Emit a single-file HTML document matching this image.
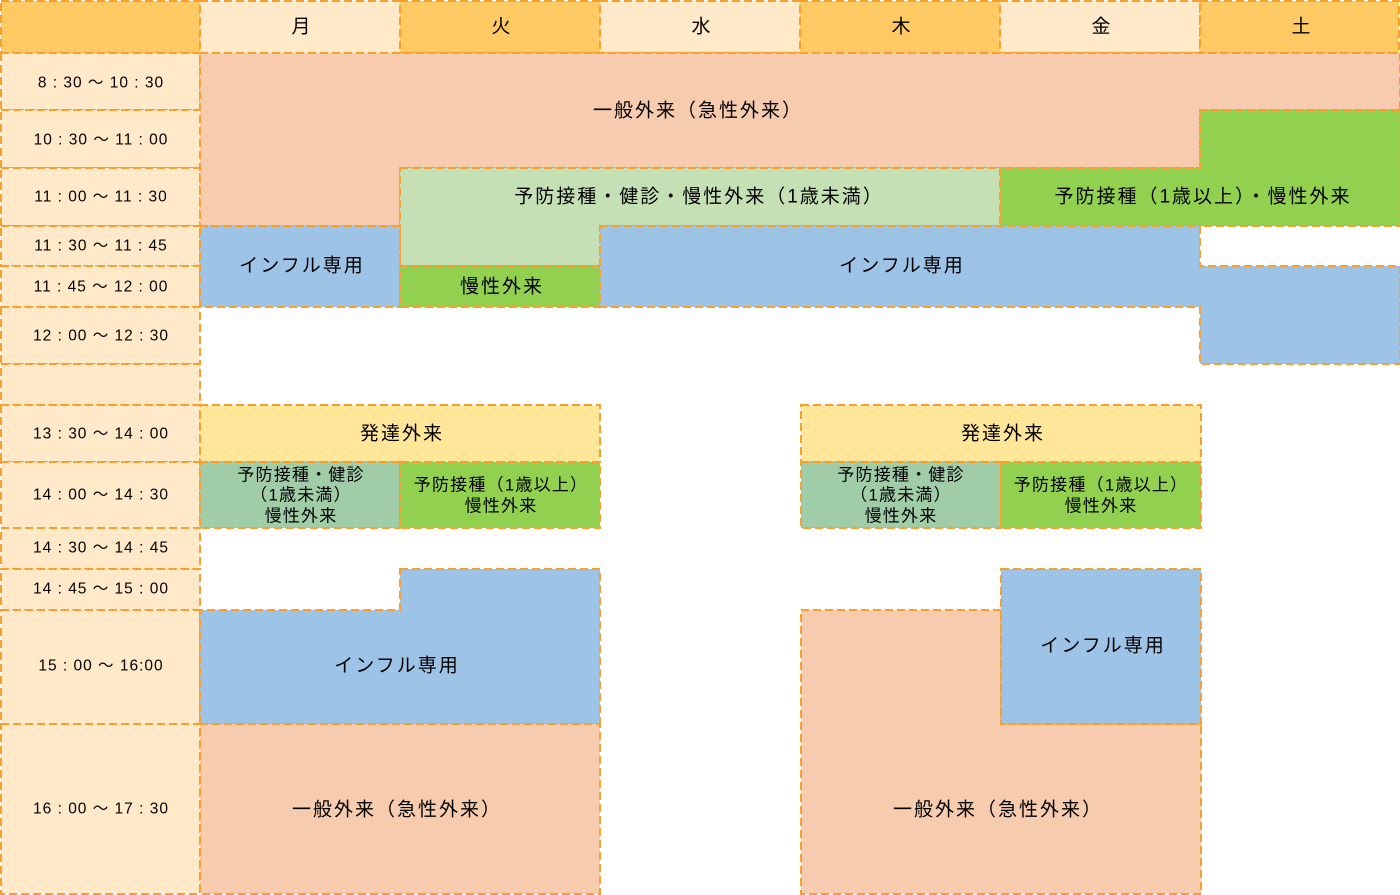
<!DOCTYPE html>
<html><head><meta charset="utf-8"><style>
html,body{margin:0;padding:0;background:#fff;}
svg{display:block;}
text{font-family:"Liberation Sans","Noto Sans CJK JP",sans-serif;fill:#000;text-anchor:middle;dominant-baseline:central;}
.t{font-size:15.5px;letter-spacing:1px;}
.l{font-size:19px;letter-spacing:2px;}
.s{font-size:17px;letter-spacing:1.2px;}
.b{stroke:#F7A02E;stroke-width:2;stroke-dasharray:8 4;}
</style></head><body>
<svg width="1400" height="895" viewBox="0 0 1400 895" xmlns="http://www.w3.org/2000/svg">
<rect class="b" x="1" y="1" width="199" height="52" fill="#FFCA64"/>
<rect class="b" x="200" y="1" width="200" height="52" fill="#FFE9C8"/>
<rect class="b" x="400" y="1" width="200" height="52" fill="#FFCA64"/>
<rect class="b" x="600" y="1" width="200" height="52" fill="#FFE9C8"/>
<rect class="b" x="800" y="1" width="200" height="52" fill="#FFCA64"/>
<rect class="b" x="1000" y="1" width="200" height="52" fill="#FFE9C8"/>
<rect class="b" x="1200" y="1" width="199" height="52" fill="#FFCA64"/>
<text class="l" x="302" y="27">月</text>
<text class="l" x="502" y="27">火</text>
<text class="l" x="702" y="27">水</text>
<text class="l" x="902" y="27">木</text>
<text class="l" x="1102" y="27">金</text>
<text class="l" x="1302" y="27">土</text>
<g fill="#FFE9C8">
<rect class="b" x="1" y="53" width="199" height="57"/>
<rect class="b" x="1" y="110" width="199" height="58"/>
<rect class="b" x="1" y="168" width="199" height="58"/>
<rect class="b" x="1" y="226" width="199" height="40"/>
<rect class="b" x="1" y="266" width="199" height="41"/>
<rect class="b" x="1" y="307" width="199" height="57"/>
<rect class="b" x="1" y="364" width="199" height="41"/>
<rect class="b" x="1" y="405" width="199" height="57"/>
<rect class="b" x="1" y="462" width="199" height="66"/>
<rect class="b" x="1" y="528" width="199" height="41"/>
<rect class="b" x="1" y="569" width="199" height="41"/>
<rect class="b" x="1" y="610" width="199" height="114"/>
<rect class="b" x="1" y="724" width="199" height="170"/>
</g>
<g class="t">
<text x="101" y="83">8 : 30 ～ 10 : 30</text>
<text x="101" y="140">10 : 30 ～ 11 : 00</text>
<text x="101" y="197">11 : 00 ～ 11 : 30</text>
<text x="101" y="246">11 : 30 ～ 11 : 45</text>
<text x="101" y="287">11 : 45 ～ 12 : 00</text>
<text x="101" y="336">12 : 00 ～ 12 : 30</text>
<text x="101" y="434">13 : 30 ～ 14 : 00</text>
<text x="101" y="495">14 : 00 ～ 14 : 30</text>
<text x="101" y="548">14 : 30 ～ 14 : 45</text>
<text x="101" y="589">14 : 45 ～ 15 : 00</text>
<text x="101" y="666">15 : 00 ～ 16:00</text>
<text x="101" y="809">16 : 00 ～ 17 : 30</text>
</g>
<polygon class="b" fill="#F7CBAD" points="200,53 1400,53 1400,110 1200,110 1200,168 400,168 400,226 200,226"/>
<text class="l" x="698" y="111">一般外来（急性外来）</text>
<polygon class="b" fill="#92D050" points="1200,110 1400,110 1400,226 1000,226 1000,168 1200,168"/>
<text class="l" x="1203" y="197">予防接種（1歳以上）・慢性外来</text>
<polygon class="b" fill="#C5E0B4" points="400,168 1000,168 1000,226 600,226 600,266 400,266"/>
<text class="l" x="699" y="197">予防接種・健診・慢性外来（1歳未満）</text>
<rect class="b" x="200" y="226" width="200" height="81" fill="#9DC3E6"/>
<text class="l" x="302" y="266">インフル専用</text>
<rect class="b" x="400" y="266" width="200" height="41" fill="#92D050"/>
<text class="l" x="502" y="287">慢性外来</text>
<polygon class="b" fill="#9DC3E6" points="600,226 1200,226 1200,266 1400,266 1400,364 1200,364 1200,307 600,307"/>
<text class="l" x="902" y="266">インフル専用</text>
<rect class="b" x="200" y="405" width="400" height="57" fill="#FFE699"/>
<text class="l" x="402" y="434">発達外来</text>
<rect class="b" x="200" y="462" width="200" height="66" fill="#A0CDA8"/>
<text class="s" x="301" y="475">予防接種・健診</text>
<text class="s" x="301" y="495">（1歳未満）</text>
<text class="s" x="301" y="516">慢性外来</text>
<rect class="b" x="400" y="462" width="200" height="66" fill="#92D050"/>
<text class="s" x="501" y="485">予防接種（1歳以上）</text>
<text class="s" x="501" y="506">慢性外来</text>
<polygon class="b" fill="#9DC3E6" points="400,569 600,569 600,724 200,724 200,610 400,610"/>
<text class="l" x="397" y="666">インフル専用</text>
<rect class="b" x="200" y="724" width="400" height="170" fill="#F7CBAD"/>
<text class="l" x="397" y="810">一般外来（急性外来）</text>
<rect class="b" x="801" y="405" width="400" height="57" fill="#FFE699"/>
<text class="l" x="1003" y="434">発達外来</text>
<rect class="b" x="801" y="462" width="200" height="66" fill="#A0CDA8"/>
<text class="s" x="901" y="475">予防接種・健診</text>
<text class="s" x="901" y="495">（1歳未満）</text>
<text class="s" x="901" y="516">慢性外来</text>
<rect class="b" x="1001" y="462" width="200" height="66" fill="#92D050"/>
<text class="s" x="1101" y="485">予防接種（1歳以上）</text>
<text class="s" x="1101" y="506">慢性外来</text>
<polygon class="b" fill="#F7CBAD" points="801,610 1001,610 1001,724 1201,724 1201,894 801,894"/>
<text class="l" x="998" y="810">一般外来（急性外来）</text>
<rect class="b" x="1001" y="569" width="200" height="155" fill="#9DC3E6"/>
<text class="l" x="1103" y="646">インフル専用</text>
</svg>
</body></html>
